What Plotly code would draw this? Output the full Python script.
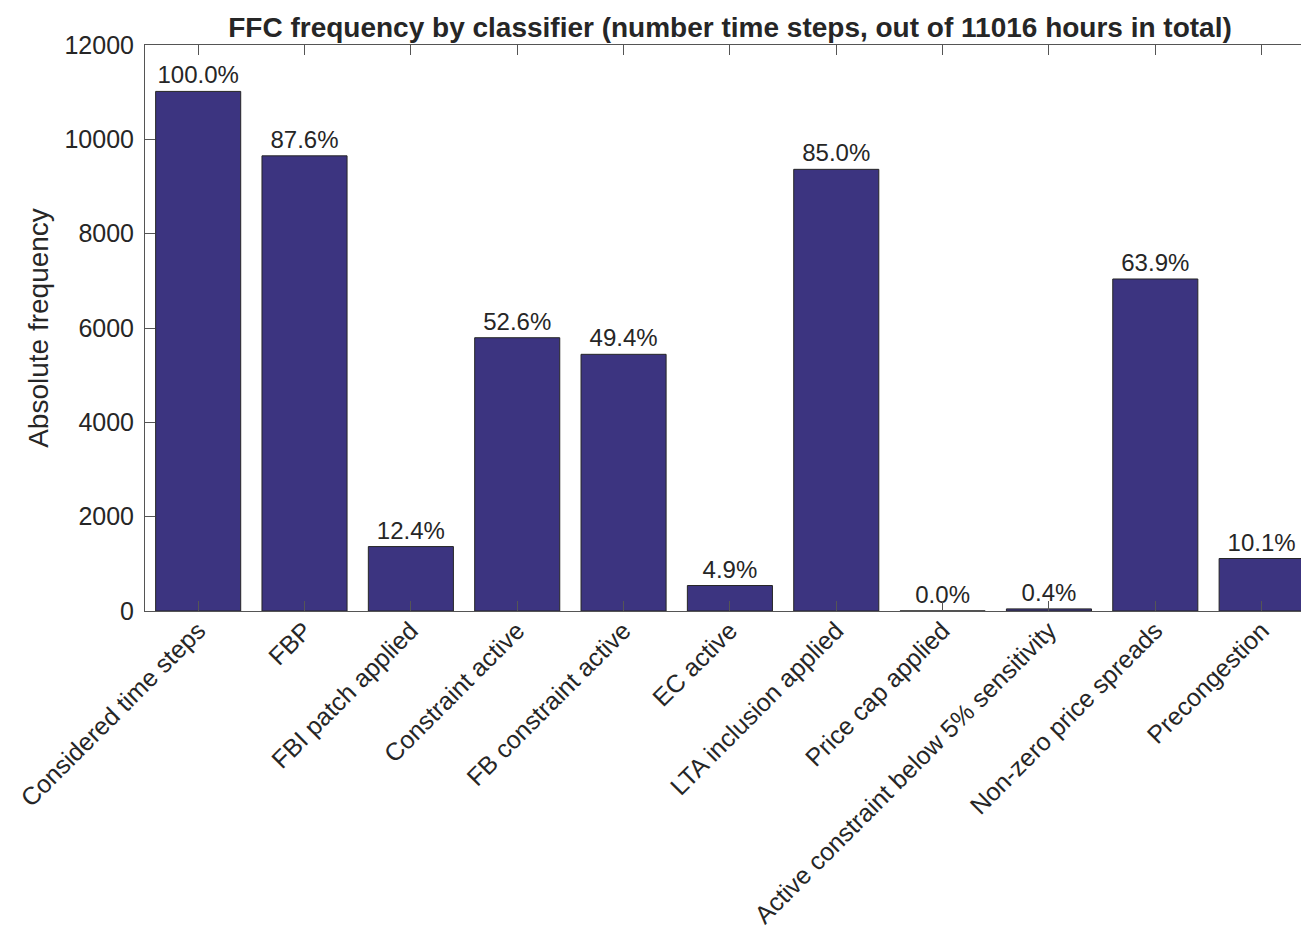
import plotly.graph_objects as go

# Classifier counts (time steps) out of the total hours considered
total_hours = 11016
categories = [
    "Considered time steps",
    "FBP",
    "FBI patch applied",
    "Constraint active",
    "FB constraint active",
    "EC active",
    "LTA inclusion applied",
    "Price cap applied",
    "Active constraint below 5% sensitivity",
    "Non-zero price spreads",
    "Precongestion",
]
counts = [11016, 9650, 1366, 5794, 5442, 540, 9364, 2, 45, 7039, 1113]
y_ticks = [0, 2000, 4000, 6000, 8000, 10000, 12000]

labels = [f"{100 * c / total_hours:.1f}%" for c in counts]

FONT = "Liberation Sans, Arial, Helvetica, sans-serif"
TEXT = "#262626"
AXIS = "#555555"

fig = go.Figure(
    go.Bar(
        x=list(range(len(categories))),
        y=counts,
        width=0.8,
        marker=dict(color="#3C3480", line=dict(color="#262626", width=1)),
        text=labels,
        textposition="outside",
        cliponaxis=False,
        textfont=dict(family=FONT, size=24, color=TEXT),
    )
)

fig.update_layout(
    width=1301,
    height=928,
    margin=dict(l=145, r=0, t=45, b=317, autoexpand=False),
    paper_bgcolor="white",
    plot_bgcolor="white",
    showlegend=False,
    font=dict(family=FONT, color=TEXT),
    title=dict(
        text="<b>FFC frequency by classifier (number time steps, out of 11016 hours in total)</b>",
        x=730 / 1301,
        xanchor="center",
        xref="container",
        y=1 - 27 / 928,
        yanchor="middle",
        yref="container",
        font=dict(family=FONT, size=28, color=TEXT),
    ),
)

fig.update_xaxes(
    automargin=False,
    range=[-0.5, 10.37],
    tickmode="array",
    tickvals=list(range(len(categories))),
    ticktext=categories,
    tickangle=-45,
    ticks="inside",
    ticklen=10,
    tickcolor=AXIS,
    showline=True,
    linecolor=AXIS,
    linewidth=1,
    mirror="ticks",
    showgrid=False,
    zeroline=False,
    ticklabelstandoff=-6,
    tickfont=dict(family=FONT, size=25, color=TEXT),
)

fig.update_yaxes(
    automargin=False,
    range=[0, 12000],
    tickmode="array",
    tickvals=y_ticks,
    ticktext=[str(v) for v in y_ticks],
    ticks="inside",
    ticklen=10,
    tickcolor=AXIS,
    showline=True,
    linecolor=AXIS,
    linewidth=1,
    mirror=False,
    showgrid=False,
    zeroline=False,
    ticklabelstandoff=5,
    tickfont=dict(family=FONT, size=25, color=TEXT),
    title=dict(text="Absolute frequency", font=dict(family=FONT, size=28, color=TEXT), standoff=7),
)

fig.write_html("out.html")
